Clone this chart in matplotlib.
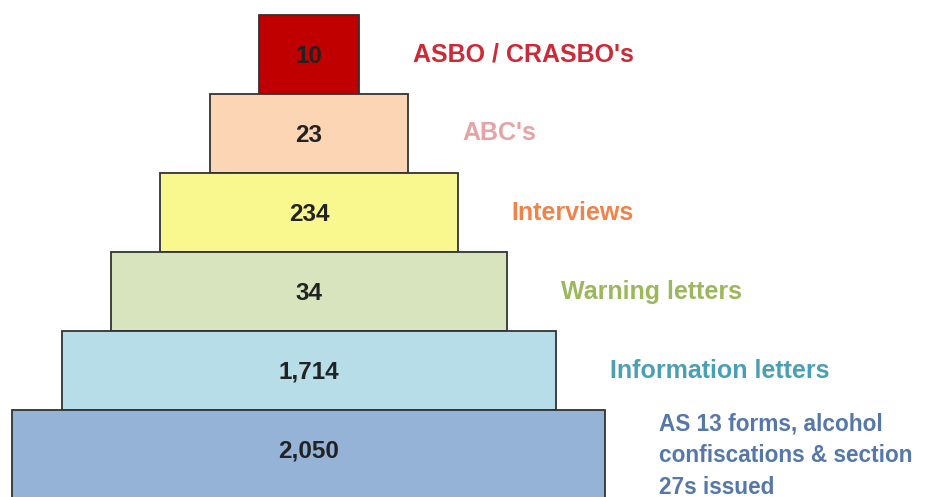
import numpy as np
import matplotlib
matplotlib.use('Agg')
import matplotlib.pyplot as plt

# pyramid levels, top to bottom
values = [10, 23, 234, 34, 1714, 2050]
labels = ["ASBO / CRASBO's", "ABC's", "Interviews", "Warning letters",
          "Information letters", "AS 13 forms, alcohol\nconfiscations & section\n27s issued"]
fill_colors = ["#c00000", "#fcd5b5", "#f8f88e", "#d7e4bd", "#b7dde8", "#95b3d7"]
text_colors = ["#cc2a36", "#e6a3a3", "#f0834a", "#9bb85c", "#4a9fb5", "#5577aa"]

W, H = 928, 497
fig = plt.figure(figsize=(W / 100, H / 100), dpi=100)
ax = fig.add_axes([0, 0, 1, 1])
ax.set_xlim(0, W)
# one bar unit = 79 px, top of pyramid at 15 px
ax.set_ylim((H - 15) / 79, -15 / 79)
ax.axis('off')

n = len(values)
levels = np.arange(n)
center = 309
widths = 100 + 98.6 * levels
heights = np.ones(n)
heights[-1] = 1.3  # bottom block runs off the picture

ax.barh(levels + heights / 2, widths, height=heights, left=center - widths / 2,
        color=fill_colors, edgecolor="#333333", linewidth=1.3, zorder=2)

font = dict(family="Liberation Sans", fontweight="bold")
for i, v in enumerate(values):
    ax.text(center, i + 0.52, f"{v:,}", ha="center", va="center", fontsize=17.5,
            color="#222222", zorder=3, **font)
    lx = center + widths[i] / 2 + 54
    ly = i + 0.5
    size = 18
    if "\n" in labels[i]:
        ly += 0.08
        size = 16.3
    ax.text(lx, ly, labels[i], ha="left", va="center", color=text_colors[i],
            fontsize=size, linespacing=1.5, **font)

fig.savefig("out.png", dpi=100)
